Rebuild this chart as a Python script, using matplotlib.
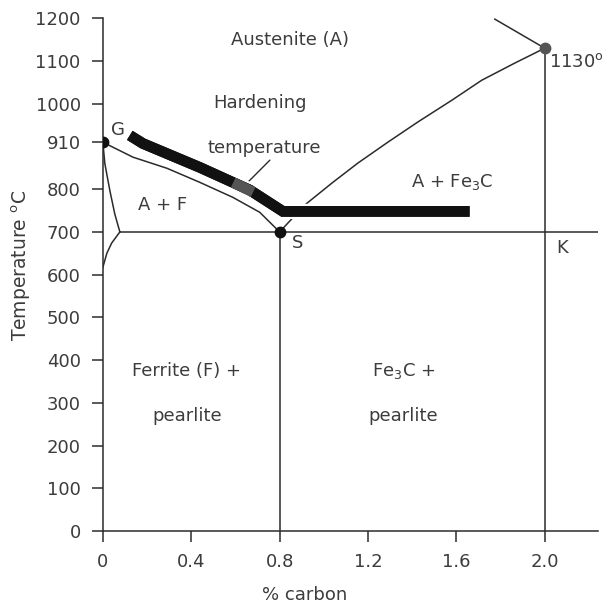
import matplotlib
matplotlib.use("Agg")
import matplotlib.pyplot as plt
import matplotlib.patheffects as pe
import numpy as np

plt.rcParams['font.family'] = ['DejaVu Sans']
plt.rcParams['mathtext.fontset'] = 'dejavusans'

# phase boundaries (% carbon, deg C)
a3_c = [0, 0.136, 0.29, 0.439, 0.588, 0.71, 0.8]
a3_t = [910, 875, 849, 816, 781, 746, 700]

acm_c = [0.8, 0.914, 1.036, 1.154, 1.29, 1.425, 1.579, 1.715, 1.864, 2.0]
acm_t = [700, 763, 814, 861, 910, 957, 1008, 1055, 1095, 1130]

solidus_c = [1.774, 2.0]
solidus_t = [1198, 1130]

upper_f_c = [0, 0.009, 0.032, 0.054, 0.077]
upper_f_t = [910, 860, 796, 742, 700]
lower_f_c = [0.077, 0.04, 0.018, 0.0]
lower_f_t = [700, 674, 650, 617]

eutectoid_t = 700
eutectoid_c = 0.8
eutectic_c = 2.0
eutectic_t = 1130

hard_c = [0.122, 0.181, 0.439, 0.665, 0.815, 1.66]
hard_t = [926, 907, 851, 798, 748, 748]
grey_c = [0.59, 0.68]

x_ticks = [0, 0.4, 0.8, 1.2, 1.6, 2.0]
x_labels = ['0', '0.4', '0.8', '1.2', '1.6', '2.0']
y_ticks = [0, 100, 200, 300, 400, 500, 600, 700, 800, 910, 1000, 1100, 1200]
y_labels = [str(v) for v in y_ticks]

ink = '#2b2b2b'
txt = '#3c3c3c'

fig = plt.figure(figsize=(6.05, 6.09), dpi=100)
ax = fig.add_axes([0.170, 0.128, 0.818, 0.842])

lw = 1.1
ax.plot(a3_c, a3_t, color=ink, lw=lw)
ax.plot(acm_c, acm_t, color=ink, lw=lw)
ax.plot(solidus_c, solidus_t, color=ink, lw=lw)
ax.plot(upper_f_c, upper_f_t, color=ink, lw=lw)
ax.plot(lower_f_c, lower_f_t, color=ink, lw=lw)
ax.plot([upper_f_c[-1], 2.24], [eutectoid_t, eutectoid_t], color=ink, lw=lw)
ax.plot([eutectoid_c, eutectoid_c], [0, eutectoid_t], color=ink, lw=lw)
ax.plot([eutectic_c, eutectic_c], [0, eutectic_t], color=ink, lw=lw)

# hardening temperature band
ax.plot(hard_c, hard_t, color='#111111', lw=7.7, solid_capstyle='butt',
        solid_joinstyle='miter', zorder=4,
        path_effects=[pe.withStroke(linewidth=11, foreground='white'), pe.Normal()])
gt = np.interp(grey_c, hard_c, hard_t)
ax.plot(grey_c, gt, color='#555555', lw=7.7, solid_capstyle='butt', zorder=5)

ax.plot([0], [910], 'o', color='#111111', ms=7.5, zorder=6)
ax.plot([eutectoid_c], [eutectoid_t], 'o', color='#111111', ms=7.5, zorder=6)
ax.plot([eutectic_c], [eutectic_t], 'o', color='#555555', ms=7.5, zorder=6)

fs = 13
ax.text(0.846, 1150, 'Austenite (A)', fontsize=fs, color=txt, ha='center', va='center')
ax.text(0.71, 1001, 'Hardening', fontsize=fs, color=txt, ha='center', va='center')
ax.text(0.73, 896, 'temperature', fontsize=fs, color=txt, ha='center', va='center')
ax.annotate('', xy=(0.652, 814), xytext=(0.756, 868),
            arrowprops=dict(arrowstyle='-', color=ink, lw=1.0, shrinkA=0, shrinkB=0))
ax.text(0.07, 938, 'G', fontsize=fs, color=txt, ha='center', va='center')
ax.text(0.27, 763, 'A + F', fontsize=fs, color=txt, ha='center', va='center')
ax.text(1.58, 816, 'A + Fe$_3$C', fontsize=fs, color=txt, ha='center', va='center')
ax.text(0.88, 674, 'S', fontsize=fs, color=txt, ha='center', va='center')
ax.text(2.08, 662, 'K', fontsize=fs, color=txt, ha='center', va='center')
ax.text(2.02, 1097, '1130$^\\mathrm{o}$C', fontsize=fs, color=txt, ha='left', va='center')
ax.text(0.38, 374, 'Ferrite (F) +', fontsize=fs, color=txt, ha='center', va='center')
ax.text(0.38, 269, 'pearlite', fontsize=fs, color=txt, ha='center', va='center')
ax.text(1.36, 374, 'Fe$_3$C +', fontsize=fs, color=txt, ha='center', va='center')
ax.text(1.36, 269, 'pearlite', fontsize=fs, color=txt, ha='center', va='center')

ax.set_xlim(0, 2.24)
ax.set_ylim(0, 1200)
ax.set_xticks(x_ticks)
ax.set_xticklabels(x_labels)
ax.set_yticks(y_ticks)
ax.set_yticklabels(y_labels)
ax.tick_params(direction='out', length=8, width=1.1, color=ink, labelcolor=txt,
               labelsize=fs, pad=8)
for side in ['top', 'right']:
    ax.spines[side].set_visible(False)
for side in ['left', 'bottom']:
    ax.spines[side].set_color(ink)
    ax.spines[side].set_linewidth(1.1)

ax.set_xlabel('% carbon', fontsize=fs, color=txt)
ax.xaxis.set_label_coords(0.408, -0.107)
ax.xaxis.label.set_va('top')
ax.set_ylabel('Temperature $^\\mathrm{o}$C', fontsize=fs + 0.5, color=txt)
ax.yaxis.set_label_coords(-0.141, 0.517)

fig.savefig('out.png', dpi=100)
